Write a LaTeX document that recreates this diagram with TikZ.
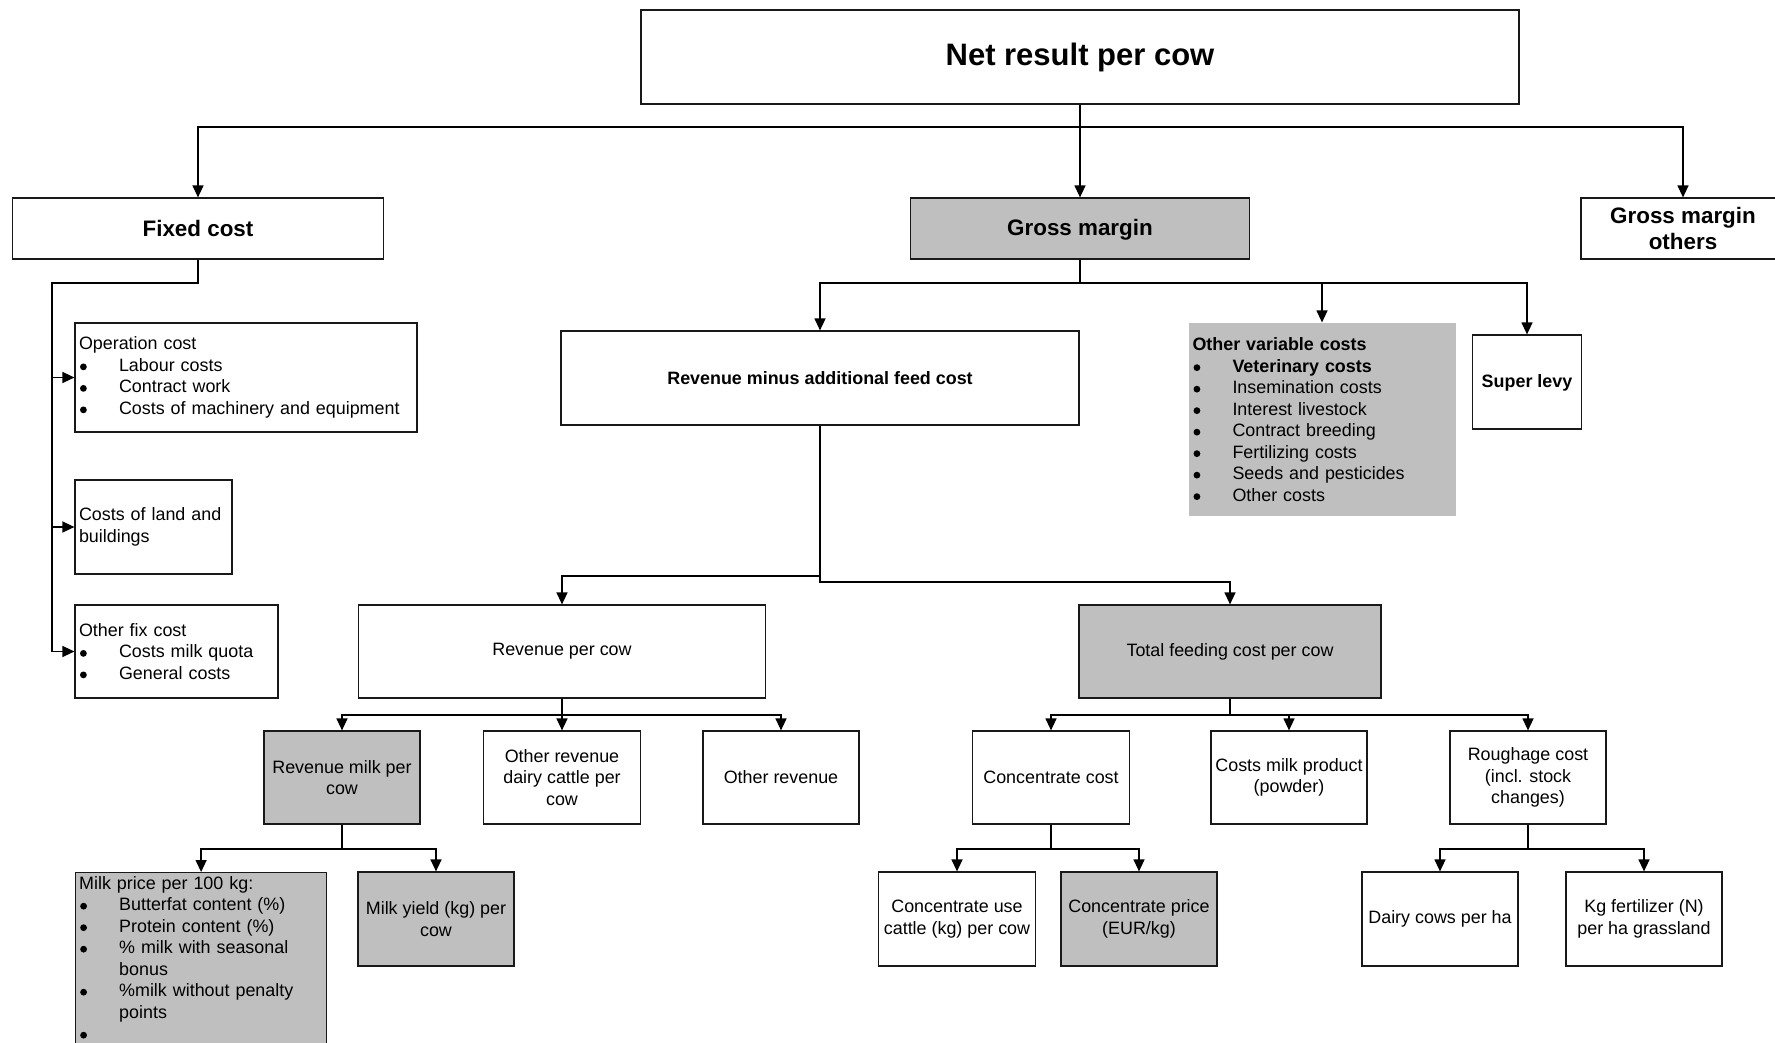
\documentclass[tikz,border=0pt]{standalone}
\usepackage{fontspec}
\setmainfont{Liberation Sans}
\usetikzlibrary{arrows.meta}
\newcommand{\bulitem}{\makebox[40pt][l]{\hspace{1pt}\tikz[baseline=-4.5pt]\fill circle (3.4pt);}}
\newcommand{\smallfont}{\fontsize{17.9}{21.5}\selectfont}
\newcommand{\midfont}{\fontsize{22.4}{26}\selectfont\bfseries}

\begin{document}
\begin{tikzpicture}[x=1pt, y=-1pt,
		box/.style = {draw=black!90, line width=1.2pt, fill=white, align=center, inner sep=4pt, font=\smallfont},
		greybox/.style = {box, fill=black!25},
		listbox/.style = {box, align=left},
		wire/.style = {line width=1.3pt, draw=black},
		link/.style = {wire, -{Triangle[length=12pt, width=11pt]}}]
			\useasboundingbox (0,0) rectangle (1775,1043);
			\coordinate (bar1)  at (0,127);
			\coordinate (bar2)  at (0,283);
			\coordinate (bar3a) at (0,576);
			\coordinate (bar3b) at (0,582);
			\coordinate (bar4)  at (0,715);
			\coordinate (bar5)  at (0,849);
			\coordinate (spine) at (52,283);

			\node[box, minimum width=878pt, minimum height=94pt, font=\fontsize{31}{36}\selectfont\bfseries] (net) at (1080,57) {Net result per cow};

			\node[box, minimum width=371pt, minimum height=61pt, font=\midfont] (fixed) at (198,228.5) {Fixed cost};
			\node[greybox, minimum width=339pt, minimum height=61pt, font=\midfont, text depth=3pt] (gross) at (1080,228.5) {Gross margin};
			\node[box, minimum width=204pt, minimum height=61pt, font=\midfont] (others) at (1683,228.5) {Gross margin\\others};

			\node[listbox, text width=334pt, minimum height=109pt] (opcost) at (246,377.5) {Operation cost\\\bulitem Labour costs\\\bulitem Contract work\\\bulitem Costs of machinery and equipment};
			\node[listbox, text width=149pt, minimum height=94pt] (land) at (153.5,527) {Costs of land and\\buildings};
			\node[listbox, text width=195pt, minimum height=93pt] (otherfix) at (176.5,651.5) {Other fix cost\\\bulitem Costs milk quota\\\bulitem General costs};

			\node[box, minimum width=518pt, minimum height=94pt, font=\smallfont\bfseries] (revminus) at (820,378) {Revenue minus additional feed cost};
			\node[listbox, fill=black!25, draw=none, text width=259pt, minimum height=193pt] (othervar) at (1322,419.5) {\textbf{Other variable costs}\\\bulitem \textbf{Veterinary costs}\\\bulitem Insemination costs\\\bulitem Interest livestock\\\bulitem Contract breeding\\\bulitem Fertilizing costs\\\bulitem Seeds and pesticides\\\bulitem Other costs};
			\node[box, minimum width=109pt, minimum height=94pt, font=\smallfont\bfseries, text depth=2pt] (superlevy) at (1527,382) {Super levy};

			\node[box, minimum width=407pt, minimum height=93pt] (revcow) at (562,651.5) {Revenue per cow};
			\node[greybox, minimum width=302pt, minimum height=93pt] (feedcost) at (1230,651.5) {Total feeding cost per cow};

			\node[greybox, minimum width=156pt, minimum height=93pt] (revmilk) at (342,777.5) {Revenue milk per\\cow};
			\node[box, minimum width=157pt, minimum height=93pt] (othrevdairy) at (562,777.5) {Other revenue\\dairy cattle per\\cow};
			\node[box, minimum width=156pt, minimum height=93pt] (othrev) at (781,777.5) {Other revenue};
			\node[box, minimum width=157pt, minimum height=93pt] (conc) at (1051,777.5) {Concentrate cost};
			\node[box, minimum width=156pt, minimum height=93pt] (milkprod) at (1289,777.5) {Costs milk product\\(powder)};
			\node[box, minimum width=156pt, minimum height=93pt] (rough) at (1528,777.5) {Roughage cost\\(incl. stock\\changes)};

			\node[greybox, anchor=north west, minimum width=251pt, minimum height=200pt] (milkprice) at (75,872) {};
			\node[anchor=north west, align=left, text width=243pt, inner sep=4pt, font=\smallfont] (milkpricetext) at (milkprice.north west) {Milk price per 100 kg:\\\bulitem Butterfat content (\%)\\\bulitem Protein content (\%)\\\bulitem \% milk with seasonal\\\hspace*{40pt}bonus\\\bulitem \%milk without penalty\\\hspace*{40pt}points\\\bulitem};
			\node[greybox, minimum width=156pt, minimum height=94pt] (milkyield) at (436,919) {Milk yield (kg) per\\cow};
			\node[box, minimum width=157pt, minimum height=94pt] (concuse) at (957,919) {Concentrate use\\cattle (kg) per cow};
			\node[greybox, minimum width=156pt, minimum height=94pt] (concprice) at (1139,919) {Concentrate price\\(EUR/kg)};
			\node[box, minimum width=156pt, minimum height=94pt] (dairycows) at (1440,919) {Dairy cows per ha};
			\node[box, minimum width=156pt, minimum height=94pt] (kgfert) at (1644,919) {Kg fertilizer (N)\\per ha grassland};

			\foreach \c in {fixed,gross,others}
				\draw[link] (net.south) |- (bar1 -| \c.north) -- (\c.north);

			\draw[wire] (fixed.south) |- (spine) -- (spine |- otherfix.west);
			\foreach \c in {opcost,land,otherfix}
				\draw[link] (spine |- \c.west) -- (\c.west);

			\foreach \c in {revminus,othervar,superlevy}
				\draw[link] (gross.south) |- (bar2 -| \c.north) -- (\c.north);

			\draw[link] (revminus.south) |- (bar3a -| revcow.north) -- (revcow.north);
			\draw[link] (revminus.south) |- (bar3b -| feedcost.north) -- (feedcost.north);

			\foreach \c in {revmilk,othrevdairy,othrev}
				\draw[link] (revcow.south) |- (bar4 -| \c.north) -- (\c.north);
			\foreach \c in {conc,milkprod,rough}
				\draw[link] (feedcost.south) |- (bar4 -| \c.north) -- (\c.north);

			\foreach \c in {milkprice,milkyield}
				\draw[link] (revmilk.south) |- (bar5 -| \c.north) -- (\c.north);
			\foreach \c in {concuse,concprice}
				\draw[link] (conc.south) |- (bar5 -| \c.north) -- (\c.north);
			\foreach \c in {dairycows,kgfert}
				\draw[link] (rough.south) |- (bar5 -| \c.north) -- (\c.north);
		\end{tikzpicture}
\end{document}
